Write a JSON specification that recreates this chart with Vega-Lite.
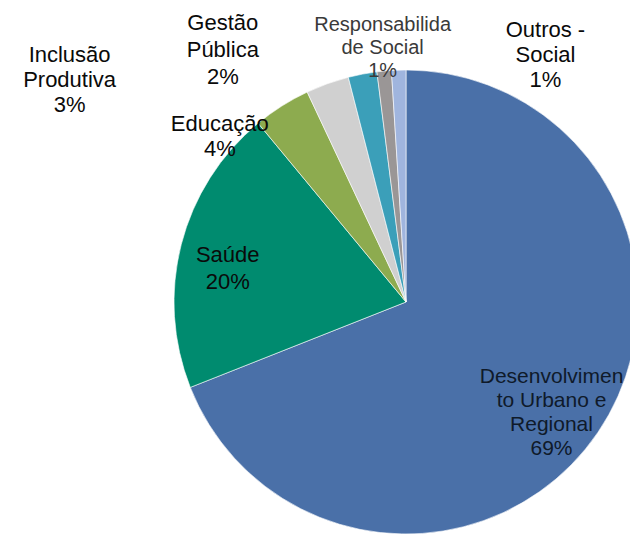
{
  "$schema": "https://vega.github.io/schema/vega-lite/v6.json",
  "width": 812,
  "height": 604,
  "autosize": {"type": "none"},
  "padding": {"left": 0, "top": 0, "right": -182, "bottom": -67},
  "background": "#ffffff",
  "config": {"view": {"stroke": null}, "text": {"font": "Liberation Sans", "lineBreak": "\n", "align": "center", "baseline": "middle"}},
  "data": {"values": [
    {"ord": 1, "cat": "Desenvolvimento Urbano e Regional", "label": "Desenvolvimen\nto Urbano e\nRegional\n69%", "value": 69},
    {"ord": 2, "cat": "Saúde", "label": "Saúde\n20%", "value": 20},
    {"ord": 3, "cat": "Educação", "label": "Educação\n4%", "value": 4},
    {"ord": 4, "cat": "Inclusão Produtiva", "label": "Inclusão\nProdutiva\n3%", "value": 3},
    {"ord": 5, "cat": "Gestão Pública", "label": "Gestão\nPública\n2%", "value": 2},
    {"ord": 6, "cat": "Responsabilidade Social", "label": "Responsabilida\nde Social\n1%", "value": 1},
    {"ord": 7, "cat": "Outros - Social", "label": "Outros -\nSocial\n1%", "value": 1}
  ]},
  "layer": [
    {
      "mark": {"type": "arc", "radius": 232, "stroke": "#ffffff", "strokeWidth": 0.6},
      "encoding": {
        "theta": {"field": "value", "type": "quantitative", "stack": true},
        "order": {"field": "ord", "type": "quantitative"},
        "color": {
          "field": "cat", "type": "nominal", "legend": null,
          "scale": {
            "domain": ["Desenvolvimento Urbano e Regional", "Saúde", "Educação", "Inclusão Produtiva", "Gestão Pública", "Responsabilidade Social", "Outros - Social"],
            "range": ["#4a70a8", "#008b6f", "#8dab4f", "#d0d0d0", "#3b9fb9", "#9a9696", "#a0b5de"]
          }
        }
      }
    },
    {
      "mark": {"type": "text", "radius": 182, "dx": -5, "dy": -27, "fontSize": 21, "lineHeight": 24, "lineBreak": "\n", "color": "#0f1a2a"},
      "encoding": {
        "theta": {"field": "value", "type": "quantitative", "stack": true},
        "order": {"field": "ord", "type": "quantitative"},
        "text": {"condition": {"test": "datum.ord === 1", "field": "label"}, "value": ""}
      }
    },
    {
      "mark": {"type": "text", "radius": 183, "dx": -1, "dy": -1, "fontSize": 22, "lineHeight": 27, "lineBreak": "\n", "color": "#0a0a0a"},
      "encoding": {
        "theta": {"field": "value", "type": "quantitative", "stack": true},
        "order": {"field": "ord", "type": "quantitative"},
        "text": {"condition": {"test": "datum.ord === 2", "field": "label"}, "value": ""}
      }
    },
    {
      "mark": {"type": "text", "radius": 243, "dx": -56, "dy": 27, "fontSize": 22, "lineHeight": 25, "lineBreak": "\n", "color": "#0a0a0a"},
      "encoding": {
        "theta": {"field": "value", "type": "quantitative", "stack": true},
        "order": {"field": "ord", "type": "quantitative"},
        "text": {"condition": {"test": "datum.ord === 3", "field": "label"}, "value": ""}
      }
    },
    {
      "mark": {"type": "text", "radius": 320, "dx": -228, "dy": 54, "fontSize": 22, "lineHeight": 25, "lineBreak": "\n", "color": "#0a0a0a"},
      "encoding": {
        "theta": {"field": "value", "type": "quantitative", "stack": true},
        "order": {"field": "ord", "type": "quantitative"},
        "text": {"condition": {"test": "datum.ord === 4", "field": "label"}, "value": ""}
      }
    },
    {
      "mark": {"type": "text", "radius": 284, "dx": -130, "dy": 0, "fontSize": 22, "lineHeight": 27, "lineBreak": "\n", "color": "#0a0a0a"},
      "encoding": {
        "theta": {"field": "value", "type": "quantitative", "stack": true},
        "order": {"field": "ord", "type": "quantitative"},
        "text": {"condition": {"test": "datum.ord === 5", "field": "label"}, "value": ""}
      }
    },
    {
      "mark": {"type": "text", "radius": 259, "dx": 1, "dy": -19, "fontSize": 20, "lineHeight": 23, "lineBreak": "\n", "color": "#3a3a3a"},
      "encoding": {
        "theta": {"field": "value", "type": "quantitative", "stack": true},
        "order": {"field": "ord", "type": "quantitative"},
        "text": {"condition": {"test": "datum.ord === 6", "field": "label"}, "value": ""}
      }
    },
    {
      "mark": {"type": "text", "radius": 241, "dx": 147, "dy": -31, "fontSize": 22, "lineHeight": 25, "lineBreak": "\n", "color": "#0a0a0a"},
      "encoding": {
        "theta": {"field": "value", "type": "quantitative", "stack": true},
        "order": {"field": "ord", "type": "quantitative"},
        "text": {"condition": {"test": "datum.ord === 7", "field": "label"}, "value": ""}
      }
    }
  ]
}
